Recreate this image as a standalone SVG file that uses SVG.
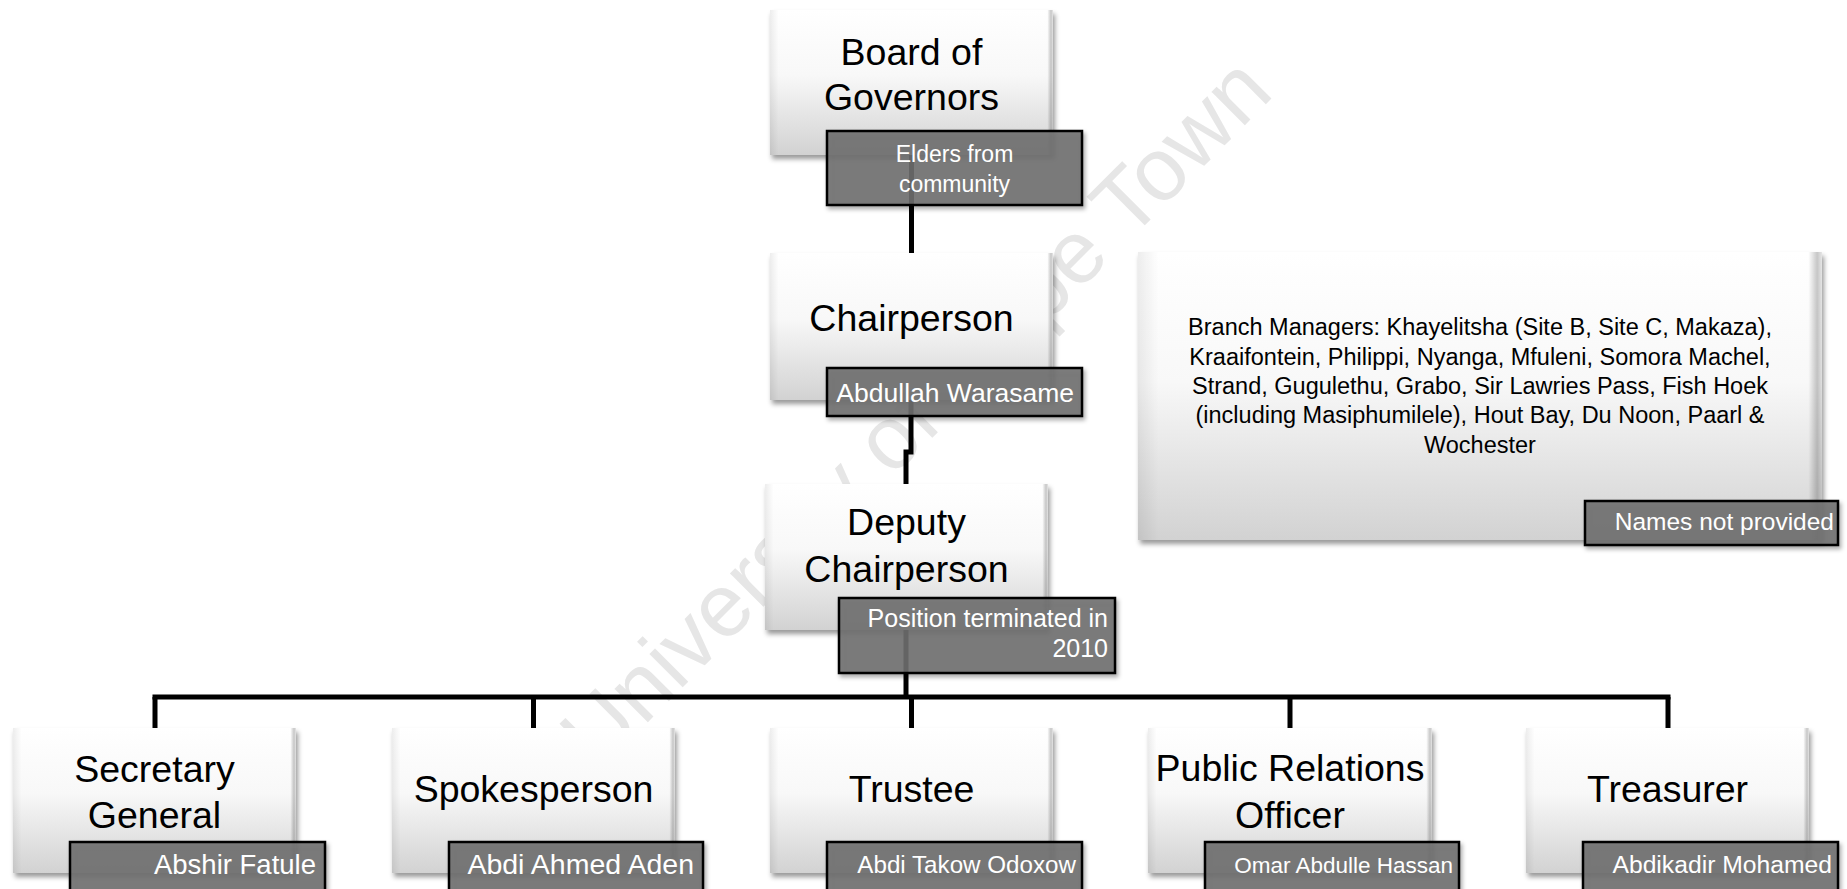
<svg xmlns="http://www.w3.org/2000/svg" width="1847" height="889" viewBox="0 0 1847 889">
<style>
.box{fill:url(#gv);filter:url(#sh)}
.edge{fill:url(#gh)}
.lbl{fill:#6f6f6f;fill-opacity:0.88;stroke:#000;stroke-width:2.5;filter:url(#sh2)}
.t{font-family:"Liberation Sans",Arial,sans-serif;font-size:37.5px;fill:#000;text-anchor:middle}
.n{font-family:"Liberation Sans",Arial,sans-serif;fill:#fff;text-anchor:end}
.nc{font-family:"Liberation Sans",Arial,sans-serif;fill:#fff;text-anchor:middle;font-size:23px}
.c{fill:none;stroke:#000;stroke-width:5}
.wm{font-family:"Liberation Sans",Arial,sans-serif;font-size:89px;fill:#e6e6e6}
</style>
<defs>
<linearGradient id="gv" x1="0" y1="0" x2="0" y2="1">
<stop offset="0" stop-color="#ffffff"/>
<stop offset="0.45" stop-color="#f8f8f8"/>
<stop offset="1" stop-color="#d2d2d2"/>
</linearGradient>
<linearGradient id="gh" x1="0" y1="0" x2="1" y2="0">
<stop offset="0" stop-color="#000" stop-opacity="0.07"/>
<stop offset="0.03" stop-color="#000" stop-opacity="0"/>
<stop offset="0.98" stop-color="#000" stop-opacity="0"/>
<stop offset="0.993" stop-color="#000" stop-opacity="0.22"/>
<stop offset="1" stop-color="#000" stop-opacity="0.1"/>
</linearGradient>
<filter id="sh" x="-10%" y="-10%" width="125%" height="130%">
<feDropShadow dx="2" dy="4" stdDeviation="2.5" flood-color="#000" flood-opacity="0.4"/>
</filter>
<filter id="sh2" x="-10%" y="-10%" width="125%" height="140%">
<feDropShadow dx="2" dy="3" stdDeviation="2" flood-color="#000" flood-opacity="0.35"/>
</filter>
</defs>
<rect width="1847" height="889" fill="#fff"/>
<text class="wm" x="598" y="772" transform="rotate(-45 598 772)">University of Cape Town</text>
<g id="connectors">
<path class="c" d="M911.5 155 V253"/>
<path class="c" d="M911 400 V452 H906 V484"/>
<path class="c" d="M906 630 V697"/>
<path class="c" d="M152.5 697 H1670.5"/>
<path class="c" d="M155 697 V728 M533.5 697 V728 M911.5 697 V728 M1290 697 V728 M1668 697 V728"/>
</g>
<g id="board">
<rect class="box" x="770" y="10" width="283" height="145"/>
<rect class="edge" x="770" y="10" width="283" height="145"/>
<text class="t" x="911.5" y="65">Board of</text>
<text class="t" x="911.5" y="110">Governors</text>
<rect class="lbl" x="827" y="131" width="255" height="74"/>
<text class="nc" x="954.5" y="162">Elders from</text>
<text class="nc" x="954.5" y="192">community</text>
</g>
<g id="chair">
<rect class="box" x="770" y="253" width="283" height="147"/>
<rect class="edge" x="770" y="253" width="283" height="147"/>
<text class="t" x="911.5" y="331">Chairperson</text>
<rect class="lbl" x="827" y="368" width="255" height="48"/>
<text class="n" x="1074" y="402" font-size="26.5">Abdullah Warasame</text>
</g>
<g id="deputy">
<rect class="box" x="765" y="484" width="283" height="146"/>
<rect class="edge" x="765" y="484" width="283" height="146"/>
<text class="t" x="906.5" y="535">Deputy</text>
<text class="t" x="906.5" y="582">Chairperson</text>
<rect class="lbl" x="839" y="598" width="276" height="75"/>
<text class="n" x="1108" y="627" font-size="25">Position terminated in</text>
<text class="n" x="1108" y="657" font-size="25">2010</text>
</g>
<g id="branch">
<rect class="box" x="1138" y="252" width="684" height="288"/>
<rect class="edge" x="1138" y="252" width="684" height="288"/>
<g font-family="Liberation Sans, Arial, sans-serif" font-size="23.5" fill="#000" text-anchor="middle">
<text x="1480" y="335">Branch Managers: Khayelitsha (Site B, Site C, Makaza),</text>
<text x="1480" y="365">Kraaifontein, Philippi, Nyanga, Mfuleni, Somora Machel,</text>
<text x="1480" y="394">Strand, Gugulethu, Grabo, Sir Lawries Pass, Fish Hoek</text>
<text x="1480" y="423">(including Masiphumilele), Hout Bay, Du Noon, Paarl &amp;</text>
<text x="1480" y="453">Wochester</text>
</g>
<rect class="lbl" x="1585" y="501" width="253" height="44"/>
<text class="n" x="1834" y="530" font-size="24.5">Names not provided</text>
</g>
<g id="secretary">
<rect class="box" x="13" y="728" width="283" height="145"/>
<rect class="edge" x="13" y="728" width="283" height="145"/>
<text class="t" x="154.5" y="782">Secretary</text>
<text class="t" x="154.5" y="828">General</text>
<rect class="lbl" x="70" y="842" width="255" height="60"/>
<text class="n" x="316" y="874" font-size="27.5">Abshir Fatule</text>
</g>
<g id="spokesperson">
<rect class="box" x="392" y="728" width="283" height="145"/>
<rect class="edge" x="392" y="728" width="283" height="145"/>
<text class="t" x="533.5" y="802">Spokesperson</text>
<rect class="lbl" x="449" y="842" width="254" height="60"/>
<text class="n" x="694" y="874" font-size="28.5">Abdi Ahmed Aden</text>
</g>
<g id="trustee">
<rect class="box" x="770" y="728" width="283" height="145"/>
<rect class="edge" x="770" y="728" width="283" height="145"/>
<text class="t" x="911.5" y="802">Trustee</text>
<rect class="lbl" x="827" y="842" width="255" height="60"/>
<text class="n" x="1076" y="873" font-size="24.2">Abdi Takow Odoxow</text>
</g>
<g id="pro">
<rect class="box" x="1148" y="728" width="284" height="145"/>
<rect class="edge" x="1148" y="728" width="284" height="145"/>
<text class="t" x="1290" y="781">Public Relations</text>
<text class="t" x="1290" y="828">Officer</text>
<rect class="lbl" x="1205" y="842" width="254" height="60"/>
<text class="n" x="1453" y="873" font-size="22.5">Omar Abdulle Hassan</text>
</g>
<g id="treasurer">
<rect class="box" x="1526" y="728" width="283" height="145"/>
<rect class="edge" x="1526" y="728" width="283" height="145"/>
<text class="t" x="1667.5" y="802">Treasurer</text>
<rect class="lbl" x="1583" y="842" width="255" height="60"/>
<text class="n" x="1832" y="873" font-size="24.7">Abdikadir Mohamed</text>
</g>
</svg>
